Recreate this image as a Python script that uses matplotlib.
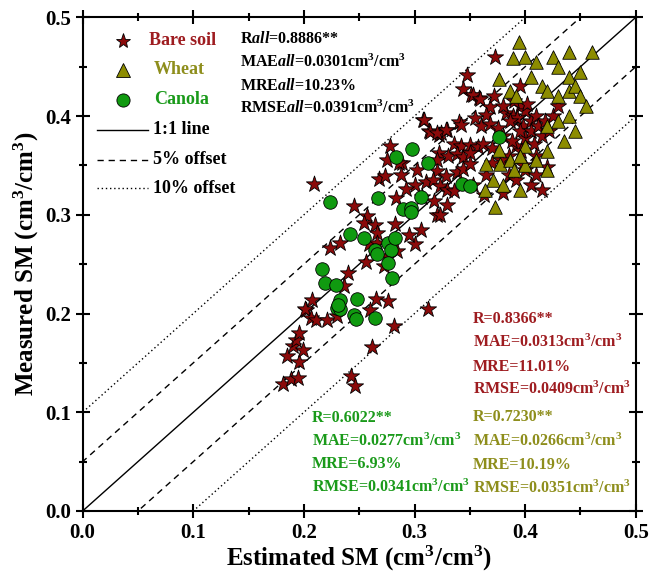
import numpy as np
import matplotlib.pyplot as plt

plt.rcParams['font.family'] = 'Liberation Serif'
plt.rcParams['font.weight'] = 'bold'
plt.rcParams['axes.labelweight'] = 'bold'
plt.rcParams['mathtext.fontset'] = 'custom'
plt.rcParams['mathtext.rm'] = 'Liberation Serif:bold'
plt.rcParams['mathtext.it'] = 'Liberation Serif:italic:bold'
plt.rcParams['mathtext.bf'] = 'Liberation Serif:bold'

# estimated / measured soil moisture (cm3/cm3)
bare_x = [0.181, 0.188, 0.195, 0.185, 0.196, 0.190, 0.193, 0.196, 0.199, 0.202,
          0.207, 0.201, 0.206, 0.211, 0.221, 0.230, 0.224, 0.233, 0.236, 0.240,
          0.209, 0.245, 0.257, 0.254, 0.264, 0.266, 0.259, 0.266, 0.275, 0.284,
          0.256, 0.272, 0.265, 0.276, 0.260, 0.281, 0.262, 0.243, 0.246, 0.278,
          0.275, 0.289, 0.268, 0.273, 0.283, 0.282, 0.286, 0.347, 0.344, 0.351,
          0.358, 0.308, 0.313, 0.340, 0.342, 0.329, 0.322, 0.324, 0.373, 0.353,
          0.359, 0.368, 0.309, 0.314, 0.320, 0.328, 0.365, 0.383, 0.389, 0.355,
          0.360, 0.368, 0.375, 0.336, 0.342, 0.350, 0.357, 0.362, 0.370, 0.322,
          0.330, 0.338, 0.344, 0.350, 0.320, 0.328, 0.338, 0.344, 0.350, 0.310,
          0.317, 0.323, 0.329, 0.336, 0.300, 0.307, 0.318, 0.320, 0.329, 0.292,
          0.288, 0.302, 0.320, 0.323, 0.353, 0.365, 0.363, 0.395, 0.400, 0.393,
          0.386, 0.380, 0.398, 0.405, 0.410, 0.400, 0.392, 0.385, 0.378, 0.370,
          0.395, 0.405, 0.412, 0.418, 0.402, 0.390, 0.380, 0.372, 0.388, 0.396,
          0.408, 0.415, 0.422, 0.410, 0.398, 0.385, 0.405, 0.415, 0.392, 0.380,
          0.400, 0.410, 0.420, 0.425, 0.430, 0.395, 0.300, 0.306, 0.312, 0.295]
bare_y = [0.129, 0.134, 0.135, 0.157, 0.151, 0.167, 0.173, 0.180, 0.163, 0.204,
          0.214, 0.205, 0.195, 0.193, 0.193, 0.197, 0.266, 0.271, 0.228, 0.241,
          0.331, 0.309, 0.299, 0.292, 0.290, 0.282, 0.270, 0.271, 0.258, 0.263,
          0.252, 0.248, 0.215, 0.213, 0.204, 0.187, 0.166, 0.137, 0.127, 0.370,
          0.355, 0.352, 0.336, 0.339, 0.317, 0.291, 0.352, 0.442, 0.427, 0.421,
          0.418, 0.396, 0.385, 0.394, 0.391, 0.386, 0.381, 0.383, 0.460, 0.421,
          0.417, 0.409, 0.396, 0.384, 0.383, 0.386, 0.401, 0.403, 0.400, 0.398,
          0.390, 0.392, 0.388, 0.372, 0.370, 0.371, 0.369, 0.372, 0.368, 0.363,
          0.360, 0.362, 0.359, 0.363, 0.344, 0.339, 0.343, 0.346, 0.351, 0.333,
          0.335, 0.329, 0.325, 0.324, 0.330, 0.318, 0.314, 0.300, 0.310, 0.326,
          0.340, 0.345, 0.355, 0.300, 0.330, 0.340, 0.320, 0.410, 0.405, 0.398,
          0.395, 0.380, 0.390, 0.395, 0.400, 0.378, 0.370, 0.360, 0.355, 0.352,
          0.385, 0.385, 0.390, 0.395, 0.412, 0.415, 0.410, 0.420, 0.375, 0.365,
          0.372, 0.380, 0.385, 0.360, 0.350, 0.340, 0.330, 0.325, 0.335, 0.322,
          0.345, 0.340, 0.348, 0.400, 0.410, 0.430, 0.270, 0.285, 0.205, 0.280]

wheat_x = [0.394, 0.389, 0.376, 0.386, 0.392, 0.376, 0.365, 0.377, 0.386, 0.371,
           0.364, 0.373, 0.400, 0.410, 0.425, 0.440, 0.460, 0.430, 0.440, 0.450,
           0.405, 0.415, 0.420, 0.430, 0.440, 0.445, 0.450, 0.455, 0.440, 0.430,
           0.420, 0.445, 0.435, 0.420, 0.400, 0.390, 0.400, 0.410, 0.420, 0.395,
           0.380, 0.395]
wheat_y = [0.475, 0.459, 0.438, 0.425, 0.420, 0.366, 0.351, 0.351, 0.356, 0.335,
           0.325, 0.308, 0.460, 0.455, 0.460, 0.465, 0.465, 0.450, 0.440, 0.445,
           0.440, 0.430, 0.425, 0.420, 0.425, 0.430, 0.420, 0.410, 0.400, 0.395,
           0.390, 0.385, 0.375, 0.365, 0.370, 0.345, 0.350, 0.355, 0.345, 0.360,
           0.330, 0.325]

canola_x = [0.224, 0.216, 0.219, 0.229, 0.233, 0.230, 0.233, 0.245, 0.247, 0.248,
            0.264, 0.242, 0.254, 0.264, 0.266, 0.276, 0.279, 0.282, 0.276, 0.280,
            0.267, 0.283, 0.298, 0.312, 0.343, 0.350, 0.306, 0.290, 0.297, 0.297,
            0.376, 0.231]
canola_y = [0.313, 0.245, 0.231, 0.229, 0.214, 0.206, 0.205, 0.198, 0.194, 0.215,
            0.195, 0.281, 0.276, 0.264, 0.260, 0.271, 0.264, 0.276, 0.251, 0.236,
            0.317, 0.359, 0.367, 0.352, 0.331, 0.329, 0.318, 0.306, 0.307, 0.303,
            0.379, 0.209]

c_bare = '#8B0A0A'
c_wheat = '#8C8C00'
c_canola = '#109A10'
t_bare = '#9E1C20'
t_wheat = '#8E8E1C'
t_canola = '#1A9A1A'

dash = (0, (4.5, 3.5))
dots = (0, (1, 2))

fig = plt.figure(figsize=(6.64, 5.74), dpi=100)
ax = fig.add_axes([0.1245, 0.1098, 0.833, 0.860])

xx = np.array([-0.2, 0.7])
ax.plot(xx, xx, color='black', lw=1.0)
for off in (0.05, -0.05):
    ax.plot(xx, xx + off, color='black', lw=1.0, ls=dash)
for off in (0.1, -0.1):
    ax.plot(xx, xx + off, color='black', lw=1.0, ls=dots)

ax.scatter(bare_x, bare_y, marker='*', s=150, c=c_bare, edgecolors='black', linewidths=0.6, zorder=3)
ax.scatter(wheat_x, wheat_y, marker='^', s=95, c=c_wheat, edgecolors='black', linewidths=0.6, zorder=3)
ax.scatter(canola_x, canola_y, marker='o', s=95, c=c_canola, edgecolors='black', linewidths=0.6, zorder=3)

ax.set_xlim(0, 0.5)
ax.set_ylim(0, 0.5)
ax.set_xticks(np.arange(0, 0.51, 0.1))
ax.set_yticks(np.arange(0, 0.51, 0.1))
ax.set_xticks(np.arange(0.05, 0.5, 0.1), minor=True)
ax.set_yticks(np.arange(0.05, 0.5, 0.1), minor=True)
ax.tick_params(which='both', direction='inout', top=True, right=True, width=1.5)
ax.tick_params(which='major', length=10, labelsize=15)
ax.tick_params(which='minor', length=6)
ax.xaxis.set_major_formatter(plt.FormatStrFormatter('%.1f'))
ax.yaxis.set_major_formatter(plt.FormatStrFormatter('%.1f'))
for sp in ax.spines.values():
    sp.set_linewidth(1.5)

ax.set_xlabel('Estimated SM (cm$^3$/cm$^3$)', fontsize=18, fontweight='bold', labelpad=1)
ax.set_ylabel('Measured SM (cm$^3$/cm$^3$)', fontsize=18, fontweight='bold', labelpad=3)

# legend drawn by hand
def px(x, y):
    return fig.transFigure.inverted().transform((x, 574 - y))

fs = 11.5
for (mk, col, lab, tc, ypos, tx) in [('*', c_bare, 'Bare soil', t_bare, 40.7, 149),
                                     ('^', c_wheat, 'Wheat', t_wheat, 70, 154),
                                     ('o', c_canola, 'Canola', t_canola, 100, 154)]:
    fx, fy = px(122.7, ypos)
    fig.lines.append(plt.Line2D([fx], [fy], marker=mk, ms=11 if mk == '*' else 9.5,
                                mfc=col, mec='black', mew=0.6, transform=fig.transFigure))
    tx_, ty_ = px(tx, ypos)
    fig.text(tx_, ty_, lab, color=tc, fontsize=13, va='center')

for (ls, lab, ypos) in [('-', '1:1 line', 130), (dash, '5% offset', 160), (dots, '10% offset', 188.3)]:
    a = px(96.7, ypos)
    b = px(148.3, ypos)
    fig.lines.append(plt.Line2D([a[0], b[0]], [a[1], b[1]], color='black', lw=1.0, ls=ls,
                                transform=fig.transFigure))
    tx_, ty_ = px(153.3, ypos)
    fig.text(tx_, ty_, lab, color='black', fontsize=13, va='center')

all_lines = ['R$\\mathit{all}$=0.8886**',
             'MAE$\\mathit{all}$=0.0301cm$^3$/cm$^3$',
             'MRE$\\mathit{all}$=10.23%',
             'RMSE$\\mathit{all}$=0.0391cm$^3$/cm$^3$']
for s, ypos in zip(all_lines, [39.3, 62.3, 86, 108.3]):
    tx_, ty_ = px(240, ypos)
    fig.text(tx_, ty_, s, color='black', fontsize=fs, va='center')

bare_lines = ['R=0.8366**', 'MAE=0.0313cm$^3$/cm$^3$', 'MRE=11.01%', 'RMSE=0.0409cm$^3$/cm$^3$']
for s, ypos in zip(bare_lines, [319.3, 342.7, 366.7, 389.3]):
    tx_, ty_ = px(472.7, ypos)
    fig.text(tx_, ty_, s, color=t_bare, fontsize=fs, va='center')

wheat_lines = ['R=0.7230**', 'MAE=0.0266cm$^3$/cm$^3$', 'MRE=10.19%', 'RMSE=0.0351cm$^3$/cm$^3$']
for s, ypos in zip(wheat_lines, [416.7, 441.7, 465, 488.3]):
    tx_, ty_ = px(472.7, ypos)
    fig.text(tx_, ty_, s, color=t_wheat, fontsize=fs, va='center')

canola_lines = ['R=0.6022**', 'MAE=0.0277cm$^3$/cm$^3$', 'MRE=6.93%', 'RMSE=0.0341cm$^3$/cm$^3$']
for s, ypos in zip(canola_lines, [418.3, 441.7, 464.3, 487.3]):
    tx_, ty_ = px(311.7, ypos)
    fig.text(tx_, ty_, s, color=t_canola, fontsize=fs, va='center')

fig.savefig('out.png', dpi=100)
